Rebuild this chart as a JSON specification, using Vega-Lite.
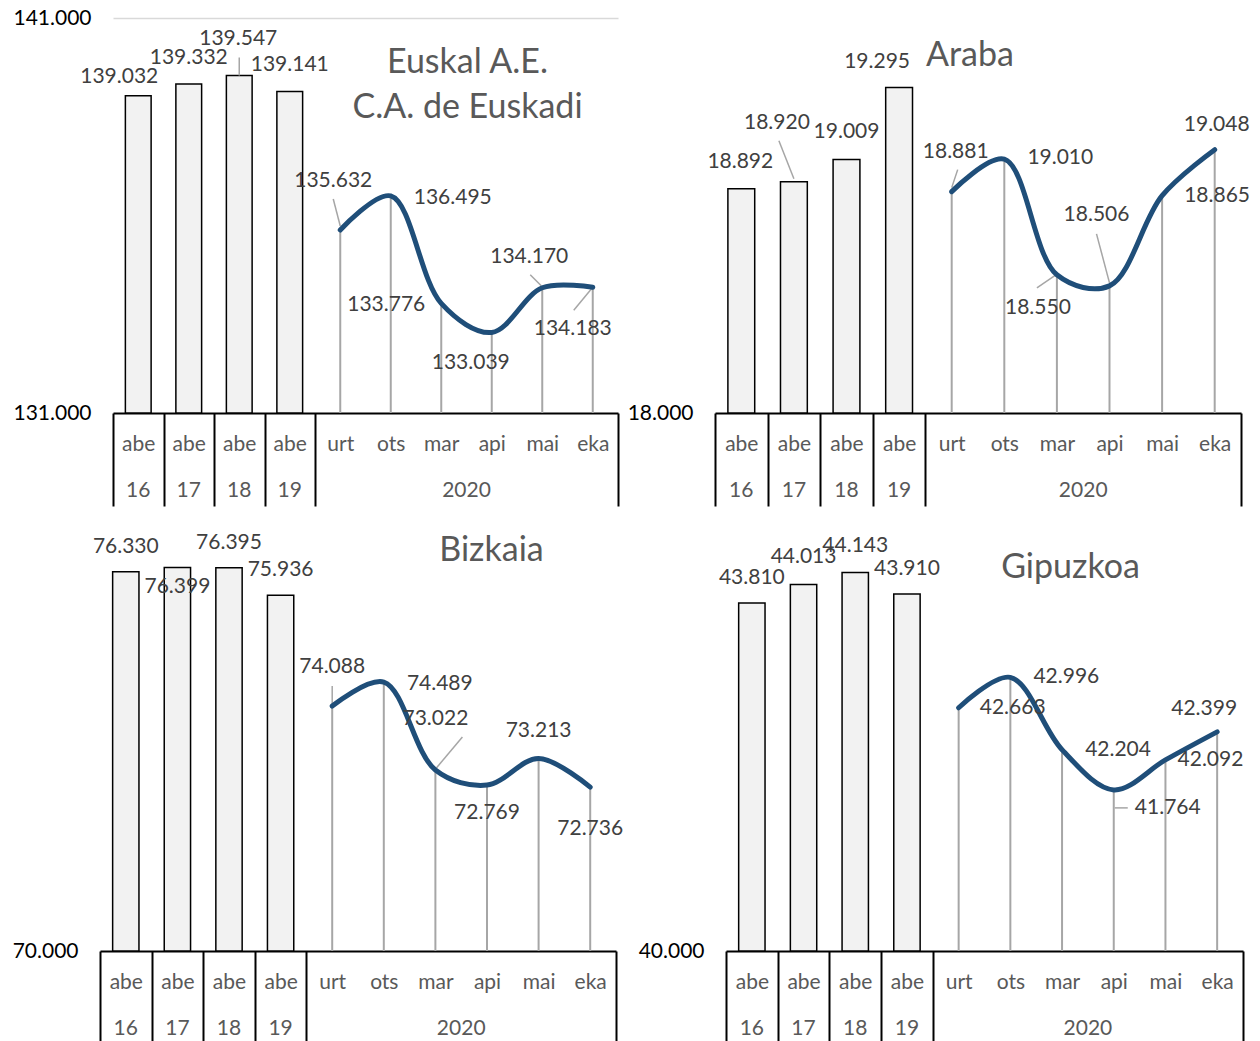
{
  "$schema": "https://vega.github.io/schema/vega-lite/v6.json",
  "padding": {"top": 7, "left": 0, "right": 0, "bottom": 0},
  "config": {
    "font": "Lato",
    "view": {"stroke": null},
    "locale": {"number": {"decimal": ",", "thousands": ".", "grouping": [3], "currency": ["", " €"]}},
    "title": {"font": "Lato", "fontSize": 34, "fontWeight": "normal", "color": "#595959", "anchor": "middle", "frame": "group", "baseline": "top", "lineHeight": 45}
  },
  "columns": 2,
  "align": {"row": "each", "column": "none"},
  "spacing": {"row": 24, "column": -4},
  "concat": [
    {
      "width": 505, "height": 395,
      "title": {"text": ["Euskal A.E.", "C.A. de Euskadi"], "dx": 102, "offset": -118},
      "data": {"values": [
        {"cat": "abe16", "year": "16", "value": 139032},
        {"cat": "abe17", "year": "17", "value": 139332},
        {"cat": "abe18", "year": "18", "value": 139547},
        {"cat": "abe19", "year": "19", "value": 139141},
        {"cat": "urt", "year": "2020", "value": 135632},
        {"cat": "ots", "year": "2020", "value": 136495},
        {"cat": "mar", "year": "2020", "value": 133776},
        {"cat": "api", "year": "2020", "value": 133039},
        {"cat": "mai", "year": "2020", "value": 134170},
        {"cat": "eka", "year": "2020", "value": 134183}
      ]},
      "encoding": {
        "x": {"field": "cat", "type": "nominal",
          "scale": {"domain": ["abe16","abe17","abe18","abe19","urt","ots","mar","api","mai","eka"], "paddingInner": 0, "paddingOuter": 0},
          "axis": {"title": null, "labelAngle": 0, "domainColor": "#000000", "domainWidth": 2, "tickBand": "extent", "tickColor": "#000000", "tickWidth": 2, "tickSize": 93,
            "tickOpacity": {"condition": {"test": "datum.extra || datum.value == 'eka' || datum.value == 'abe16' || datum.value == 'abe17' || datum.value == 'abe18' || datum.value == 'abe19'", "value": 1}, "value": 0},
            "labelExpr": "isString(datum.value) ? slice(datum.value, 0, 3) : ''", "labelFontSize": 21, "labelColor": "#595959", "labelPadding": -73, "labelOverlap": false, "grid": false}},
        "y": {"field": "value", "type": "quantitative",
          "scale": {"domain": [131000, 141000], "nice": false, "zero": false},
          "axis": {"title": null, "values": [131000, 141000], "format": ",.0f", "domain": false, "ticks": false, "grid": true, "gridColor": "#d9d9d9", "gridWidth": 1.5,
            "gridOpacity": {"condition": {"test": "datum.value == 141000", "value": 1}, "value": 0},
            "labelFontSize": 21, "labelColor": "#000000", "labelPadding": 22, "minExtent": 113, "maxExtent": 113}}
      },
      "layer": [
        {"data": {"values": [{}]}, "mark": {"type": "rule", "color": "#000000", "strokeWidth": 2},
         "encoding": {"x": {"datum": "abe16", "type": "nominal", "bandPosition": 0}, "y": {"datum": 131000, "type": "quantitative"}, "y2": {"datum": 141000}}},
        {"transform": [{"filter": "indexof(datum.cat, 'abe') == 0"}],
         "mark": {"type": "bar", "fill": "#f2f2f2", "stroke": "#000000", "strokeWidth": 1.5, "width": {"band": 0.51}},
         "encoding": {"y2": {"datum": 131000}}},
        {"transform": [{"filter": "indexof(datum.cat, 'abe') != 0"}],
         "mark": {"type": "rule", "color": "#a6a6a6", "strokeWidth": 2},
         "encoding": {"y": {"datum": 131000, "type": "quantitative"}, "y2": {"field": "value"}}},
        {"transform": [{"filter": "indexof(['abe18','urt','mai','eka'], datum.cat) >= 0"}],
         "mark": {"type": "rule", "color": "#a6a6a6", "strokeWidth": 1.5,
           "xOffset": {"expr": "datum.cat=='abe18'?0:datum.cat=='urt'?-7:datum.cat=='mai'?-12:-19"},
           "yOffset": {"expr": "datum.cat=='abe18'?-18:datum.cat=='urt'?-31:datum.cat=='mai'?-13:23"},
           "x2Offset": {"expr": "datum.cat=='mai'?-1:0"},
           "y2Offset": {"expr": "datum.cat=='urt'?-4:datum.cat=='mai'?-2:0"}},
         "encoding": {"x2": {"field": "cat"}, "y2": {"field": "value"}}},
        {"transform": [{"filter": "indexof(datum.cat, 'abe') != 0"}],
         "mark": {"type": "line", "interpolate": "catmull-rom", "color": "#1f4e79", "strokeWidth": 5, "strokeCap": "round"},
         "encoding": {}},
        {"mark": {"type": "text", "fontSize": 21, "color": "#404040", "baseline": "middle",
           "dx": {"expr": "datum.cat=='abe16'?-19:datum.cat=='abe18'?-1:datum.cat=='urt'?-7:datum.cat=='ots'?62:datum.cat=='mar'?-55:datum.cat=='api'?-21:datum.cat=='mai'?-13:datum.cat=='eka'?-20:0"},
           "dy": {"expr": "datum.cat=='abe16'?-19:datum.cat=='abe17'?-26:datum.cat=='abe18'?-36:datum.cat=='abe19'?-26:datum.cat=='urt'?-49:datum.cat=='ots'?2:datum.cat=='mar'?2:datum.cat=='api'?31:datum.cat=='mai'?-31:42"}},
         "encoding": {"text": {"field": "value", "type": "quantitative", "format": ",.0f"}}},
        {"transform": [{"filter": "indexof(datum.cat, 'abe') == 0"}],
         "mark": {"type": "text", "fontSize": 21, "color": "#595959", "baseline": "middle", "dy": 78},
         "encoding": {"y": {"datum": 131000, "type": "quantitative"}, "text": {"field": "year"}}},
        {"transform": [{"filter": "datum.cat == 'mar'"}],
         "mark": {"type": "text", "fontSize": 21, "color": "#595959", "baseline": "middle", "dy": 78},
         "encoding": {"x": {"field": "cat", "type": "nominal", "bandPosition": 1}, "y": {"datum": 131000, "type": "quantitative"}, "text": {"field": "year"}}}
      ]
    },
    {
      "width": 526, "height": 395,
      "title": {"text": "Araba", "dx": -8, "offset": -55},
      "data": {"values": [
        {"cat": "abe16", "year": "16", "value": 18892},
        {"cat": "abe17", "year": "17", "value": 18920},
        {"cat": "abe18", "year": "18", "value": 19009},
        {"cat": "abe19", "year": "19", "value": 19295},
        {"cat": "urt", "year": "2020", "value": 18881},
        {"cat": "ots", "year": "2020", "value": 19010},
        {"cat": "mar", "year": "2020", "value": 18550},
        {"cat": "api", "year": "2020", "value": 18506},
        {"cat": "mai", "year": "2020", "value": 18865},
        {"cat": "eka", "year": "2020", "value": 19048}
      ]},
      "encoding": {
        "x": {"field": "cat", "type": "nominal",
          "scale": {"domain": ["abe16","abe17","abe18","abe19","urt","ots","mar","api","mai","eka"], "paddingInner": 0, "paddingOuter": 0},
          "axis": {"title": null, "labelAngle": 0, "domainColor": "#000000", "domainWidth": 2, "tickBand": "extent", "tickColor": "#000000", "tickWidth": 2, "tickSize": 93,
            "tickOpacity": {"condition": {"test": "datum.extra || datum.value == 'eka' || datum.value == 'abe16' || datum.value == 'abe17' || datum.value == 'abe18' || datum.value == 'abe19'", "value": 1}, "value": 0},
            "labelExpr": "isString(datum.value) ? slice(datum.value, 0, 3) : ''", "labelFontSize": 21, "labelColor": "#595959", "labelPadding": -73, "labelOverlap": false, "grid": false}},
        "y": {"field": "value", "type": "quantitative",
          "scale": {"domain": [18000, 19572], "nice": false, "zero": false},
          "axis": {"title": null, "values": [18000], "format": ",.0f", "domain": false, "ticks": false, "grid": false,
            "labelFontSize": 21, "labelColor": "#000000", "labelPadding": 22, "minExtent": 90, "maxExtent": 90}}
      },
      "layer": [
        {"data": {"values": [{}]}, "mark": {"type": "rule", "color": "#000000", "strokeWidth": 2},
         "encoding": {"x": {"datum": "abe16", "type": "nominal", "bandPosition": 0}, "y": {"datum": 18000, "type": "quantitative"}, "y2": {"datum": 19500}}},
        {"transform": [{"filter": "indexof(datum.cat, 'abe') == 0"}],
         "mark": {"type": "bar", "fill": "#f2f2f2", "stroke": "#000000", "strokeWidth": 1.5, "width": {"band": 0.51}},
         "encoding": {"y2": {"datum": 18000}}},
        {"transform": [{"filter": "indexof(datum.cat, 'abe') != 0"}],
         "mark": {"type": "rule", "color": "#a6a6a6", "strokeWidth": 2},
         "encoding": {"y": {"datum": 18000, "type": "quantitative"}, "y2": {"field": "value"}}},
        {"transform": [{"filter": "indexof(['abe17','urt','mar','api'], datum.cat) >= 0"}],
         "mark": {"type": "rule", "color": "#a6a6a6", "strokeWidth": 1.5,
           "xOffset": {"expr": "datum.cat=='abe17'?-15:datum.cat=='urt'?6:datum.cat=='mar'?-20:-13"},
           "yOffset": {"expr": "datum.cat=='abe17'?-41:datum.cat=='urt'?-22:datum.cat=='mar'?13:-52"},
           "x2Offset": {"expr": "datum.cat=='mar'?-1:0"},
           "y2Offset": {"expr": "datum.cat=='abe17'?-3:datum.cat=='urt'?-4:datum.cat=='mar'?0:-3"}},
         "encoding": {"x2": {"field": "cat"}, "y2": {"field": "value"}}},
        {"transform": [{"filter": "indexof(datum.cat, 'abe') != 0"}],
         "mark": {"type": "line", "interpolate": "catmull-rom", "color": "#1f4e79", "strokeWidth": 5, "strokeCap": "round"},
         "encoding": {}},
        {"mark": {"type": "text", "fontSize": 21, "color": "#404040", "baseline": "middle",
           "dx": {"expr": "datum.cat=='abe16'?-1:datum.cat=='abe17'?-17:datum.cat=='abe19'?-22:datum.cat=='urt'?4:datum.cat=='ots'?56:datum.cat=='mar'?-19:datum.cat=='api'?-13:datum.cat=='mai'?55:datum.cat=='eka'?2:0"},
           "dy": {"expr": "datum.cat=='abe17'?-59:datum.cat=='abe19'?-26:datum.cat=='urt'?-40:datum.cat=='ots'?-1:datum.cat=='mar'?33:datum.cat=='api'?-71:datum.cat=='mai'?0:datum.cat=='eka'?-25:-27"}},
         "encoding": {"text": {"field": "value", "type": "quantitative", "format": ",.0f"}}},
        {"transform": [{"filter": "indexof(datum.cat, 'abe') == 0"}],
         "mark": {"type": "text", "fontSize": 21, "color": "#595959", "baseline": "middle", "dy": 78},
         "encoding": {"y": {"datum": 18000, "type": "quantitative"}, "text": {"field": "year"}}},
        {"transform": [{"filter": "datum.cat == 'mar'"}],
         "mark": {"type": "text", "fontSize": 21, "color": "#595959", "baseline": "middle", "dy": 78},
         "encoding": {"x": {"field": "cat", "type": "nominal", "bandPosition": 1}, "y": {"datum": 18000, "type": "quantitative"}, "text": {"field": "year"}}}
      ]
    },
    {
      "width": 503, "height": 411,
      "title": {"text": "Bizkaia", "dx": 127, "offset": -36},
      "data": {"values": [
        {"cat": "abe16", "year": "16", "value": 76330},
        {"cat": "abe17", "year": "17", "value": 76399},
        {"cat": "abe18", "year": "18", "value": 76395},
        {"cat": "abe19", "year": "19", "value": 75936},
        {"cat": "urt", "year": "2020", "value": 74088},
        {"cat": "ots", "year": "2020", "value": 74489},
        {"cat": "mar", "year": "2020", "value": 73022},
        {"cat": "api", "year": "2020", "value": 72769},
        {"cat": "mai", "year": "2020", "value": 73213},
        {"cat": "eka", "year": "2020", "value": 72736}
      ]},
      "encoding": {
        "x": {"field": "cat", "type": "nominal",
          "scale": {"domain": ["abe16","abe17","abe18","abe19","urt","ots","mar","api","mai","eka"], "paddingInner": 0, "paddingOuter": 0, "range": [-13, 503]},
          "axis": {"title": null, "labelAngle": 0, "domainColor": "#000000", "domainWidth": 2, "tickBand": "extent", "tickColor": "#000000", "tickWidth": 2, "tickSize": 93,
            "tickOpacity": {"condition": {"test": "datum.extra || datum.value == 'eka' || datum.value == 'abe16' || datum.value == 'abe17' || datum.value == 'abe18' || datum.value == 'abe19'", "value": 1}, "value": 0},
            "labelExpr": "isString(datum.value) ? slice(datum.value, 0, 3) : ''", "labelFontSize": 21, "labelColor": "#595959", "labelPadding": -73, "labelOverlap": false, "grid": false}},
        "y": {"field": "value", "type": "quantitative",
          "scale": {"domain": [70000, 76860], "nice": false, "zero": false},
          "axis": {"title": null, "values": [70000], "format": ",.0f", "domain": false, "ticks": false, "grid": false, "offset": 13,
            "labelFontSize": 21, "labelColor": "#000000", "labelPadding": 22, "minExtent": 100, "maxExtent": 100}}
      },
      "layer": [
        {"data": {"values": [{}]}, "mark": {"type": "rule", "color": "#000000", "strokeWidth": 2},
         "encoding": {"x": {"datum": "abe16", "type": "nominal", "bandPosition": 0}, "y": {"datum": 70000, "type": "quantitative"}, "y2": {"datum": 76710}}},
        {"transform": [{"filter": "indexof(datum.cat, 'abe') == 0"}],
         "mark": {"type": "bar", "fill": "#f2f2f2", "stroke": "#000000", "strokeWidth": 1.5, "width": {"band": 0.51}},
         "encoding": {"y2": {"datum": 70000}}},
        {"transform": [{"filter": "indexof(datum.cat, 'abe') != 0"}],
         "mark": {"type": "rule", "color": "#a6a6a6", "strokeWidth": 2},
         "encoding": {"y": {"datum": 70000, "type": "quantitative"}, "y2": {"field": "value"}}},
        {"transform": [{"filter": "indexof(['urt','mar'], datum.cat) >= 0"}],
         "mark": {"type": "rule", "color": "#a6a6a6", "strokeWidth": 1.5,
           "xOffset": {"expr": "datum.cat=='mar'?27:0"},
           "yOffset": {"expr": "datum.cat=='mar'?-33:-20"},
           "x2Offset": {"expr": "datum.cat=='mar'?1:0"},
           "y2Offset": {"expr": "datum.cat=='mar'?-2:0"}},
         "encoding": {"x2": {"field": "cat"}, "y2": {"field": "value"}}},
        {"transform": [{"filter": "indexof(datum.cat, 'abe') != 0"}],
         "mark": {"type": "line", "interpolate": "catmull-rom", "color": "#1f4e79", "strokeWidth": 5, "strokeCap": "round"},
         "encoding": {}},
        {"mark": {"type": "text", "fontSize": 21, "color": "#404040", "baseline": "middle",
           "dx": {"expr": "datum.cat=='ots'?56:0"},
           "dy": {"expr": "datum.cat=='abe17'?19:datum.cat=='urt'?-39:datum.cat=='ots'?2:datum.cat=='mar'?-51:datum.cat=='api'?28:datum.cat=='mai'?-28:datum.cat=='eka'?42:-25"}},
         "encoding": {"text": {"field": "value", "type": "quantitative", "format": ",.0f"}}},
        {"transform": [{"filter": "indexof(datum.cat, 'abe') == 0"}],
         "mark": {"type": "text", "fontSize": 21, "color": "#595959", "baseline": "middle", "dy": 78},
         "encoding": {"y": {"datum": 70000, "type": "quantitative"}, "text": {"field": "year"}}},
        {"transform": [{"filter": "datum.cat == 'mar'"}],
         "mark": {"type": "text", "fontSize": 21, "color": "#595959", "baseline": "middle", "dy": 78},
         "encoding": {"x": {"field": "cat", "type": "nominal", "bandPosition": 1}, "y": {"datum": 70000, "type": "quantitative"}, "text": {"field": "year"}}}
      ]
    },
    {
      "width": 517, "height": 411,
      "title": {"text": "Gipuzkoa", "dx": 86, "offset": -50},
      "data": {"values": [
        {"cat": "abe16", "year": "16", "value": 43810},
        {"cat": "abe17", "year": "17", "value": 44013},
        {"cat": "abe18", "year": "18", "value": 44143},
        {"cat": "abe19", "year": "19", "value": 43910},
        {"cat": "urt", "year": "2020", "value": 42663},
        {"cat": "ots", "year": "2020", "value": 42996},
        {"cat": "mar", "year": "2020", "value": 42204},
        {"cat": "api", "year": "2020", "value": 41764},
        {"cat": "mai", "year": "2020", "value": 42092},
        {"cat": "eka", "year": "2020", "value": 42399}
      ]},
      "encoding": {
        "x": {"field": "cat", "type": "nominal",
          "scale": {"domain": ["abe16","abe17","abe18","abe19","urt","ots","mar","api","mai","eka"], "paddingInner": 0, "paddingOuter": 0},
          "axis": {"title": null, "labelAngle": 0, "domainColor": "#000000", "domainWidth": 2, "tickBand": "extent", "tickColor": "#000000", "tickWidth": 2, "tickSize": 93,
            "tickOpacity": {"condition": {"test": "datum.extra || datum.value == 'eka' || datum.value == 'abe16' || datum.value == 'abe17' || datum.value == 'abe18' || datum.value == 'abe19'", "value": 1}, "value": 0},
            "labelExpr": "isString(datum.value) ? slice(datum.value, 0, 3) : ''", "labelFontSize": 21, "labelColor": "#595959", "labelPadding": -73, "labelOverlap": false, "grid": false}},
        "y": {"field": "value", "type": "quantitative",
          "scale": {"domain": [40000, 44500], "nice": false, "zero": false},
          "axis": {"title": null, "values": [40000], "format": ",.0f", "domain": false, "ticks": false, "grid": false,
            "labelFontSize": 21, "labelColor": "#000000", "labelPadding": 22, "minExtent": 101, "maxExtent": 101}}
      },
      "layer": [
        {"data": {"values": [{}]}, "mark": {"type": "rule", "color": "#000000", "strokeWidth": 2},
         "encoding": {"x": {"datum": "abe16", "type": "nominal", "bandPosition": 0}, "y": {"datum": 40000, "type": "quantitative"}, "y2": {"datum": 44500}}},
        {"transform": [{"filter": "indexof(datum.cat, 'abe') == 0"}],
         "mark": {"type": "bar", "fill": "#f2f2f2", "stroke": "#000000", "strokeWidth": 1.5, "width": {"band": 0.51}},
         "encoding": {"y2": {"datum": 40000}}},
        {"transform": [{"filter": "indexof(datum.cat, 'abe') != 0"}],
         "mark": {"type": "rule", "color": "#a6a6a6", "strokeWidth": 2},
         "encoding": {"y": {"datum": 40000, "type": "quantitative"}, "y2": {"field": "value"}}},
        {"transform": [{"filter": "datum.cat == 'api'"}],
         "mark": {"type": "rule", "color": "#a6a6a6", "strokeWidth": 1.5, "xOffset": 14, "yOffset": 18, "x2Offset": 1, "y2Offset": 18},
         "encoding": {"x2": {"field": "cat"}, "y2": {"field": "value"}}},
        {"transform": [{"filter": "indexof(datum.cat, 'abe') != 0"}],
         "mark": {"type": "line", "interpolate": "catmull-rom", "color": "#1f4e79", "strokeWidth": 5, "strokeCap": "round"},
         "encoding": {}},
        {"mark": {"type": "text", "fontSize": 21, "color": "#404040", "baseline": "middle",
           "dx": {"expr": "datum.cat=='urt'?54:datum.cat=='ots'?56:datum.cat=='mar'?56:datum.cat=='api'?54:datum.cat=='mai'?45:datum.cat=='eka'?-13:0"},
           "dy": {"expr": "datum.cat=='abe17'?-27:datum.cat=='abe18'?-27:datum.cat=='abe19'?-25:datum.cat=='abe16'?-25:datum.cat=='api'?18:datum.cat=='eka'?-23:0"}},
         "encoding": {"text": {"field": "value", "type": "quantitative", "format": ",.0f"}}},
        {"transform": [{"filter": "indexof(datum.cat, 'abe') == 0"}],
         "mark": {"type": "text", "fontSize": 21, "color": "#595959", "baseline": "middle", "dy": 78},
         "encoding": {"y": {"datum": 40000, "type": "quantitative"}, "text": {"field": "year"}}},
        {"transform": [{"filter": "datum.cat == 'mar'"}],
         "mark": {"type": "text", "fontSize": 21, "color": "#595959", "baseline": "middle", "dy": 78},
         "encoding": {"x": {"field": "cat", "type": "nominal", "bandPosition": 1}, "y": {"datum": 40000, "type": "quantitative"}, "text": {"field": "year"}}}
      ]
    }
  ]
}
